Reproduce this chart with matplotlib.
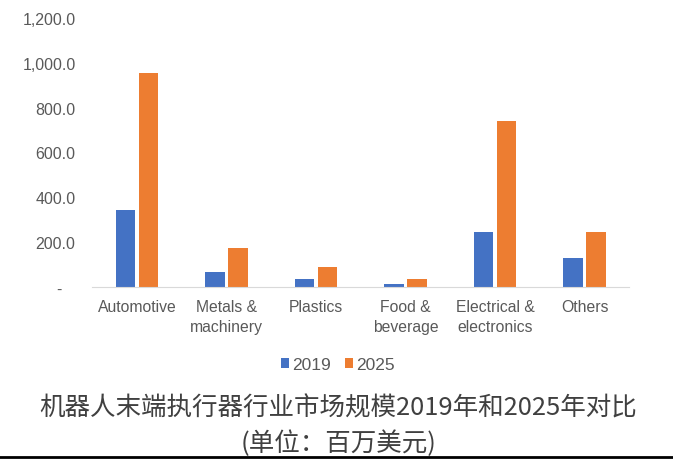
import numpy as np
import matplotlib.pyplot as plt
from matplotlib.ticker import FuncFormatter
from matplotlib.lines import Line2D

categories = ['Automotive', 'Metals &\nmachinery', 'Plastics', 'Food &\nbeverage',
              'Electrical &\nelectronics', 'Others']
v2019 = [343, 65, 36, 13, 246, 127]
v2025 = [955, 174, 89, 37, 738, 246]
years = ['2019', '2025']

plt.rcParams['font.family'] = ['Liberation Sans', 'DejaVu Sans']

fig = plt.figure(figsize=(6.73, 4.6), dpi=100)
ax = fig.add_axes([0.137, 0.374, 0.798, 0.585])

x = np.arange(len(categories))
w = 0.22
gap = 0.035
ax.bar(x - (w + gap) / 2, v2019, w, color='#4472C4', label=years[0])
ax.bar(x + (w + gap) / 2, v2025, w, color='#ED7D31', label=years[1])

ax.set_xlim(-0.5, len(categories) - 0.5)
ax.set_ylim(0, 1200)
ax.set_yticks(np.arange(0, 1201, 200))
ax.yaxis.set_major_formatter(FuncFormatter(lambda v, p: '-   ' if v == 0 else f'{v:,.1f}'))
ax.set_xticks(x)
ax.set_xticklabels(categories, linespacing=1.35)
ax.tick_params(axis='both', length=0, colors='#595959')
ax.tick_params(axis='y', pad=12, labelsize=11.5)
ax.tick_params(axis='x', pad=9, labelsize=11.3)
for s in ['top', 'right', 'left']:
    ax.spines[s].set_visible(False)
ax.spines['bottom'].set_color('#D9D9D9')

fig.legend(loc='center', bbox_to_anchor=(0.502, 0.205), ncol=2, frameon=False,
           fontsize=12.5, labelcolor='#595959', handlelength=0.45, handleheight=0.45,
           handletextpad=0.2, columnspacing=0.8)

cjk = ['Noto Sans CJK SC', 'DejaVu Sans']
fig.text(0.503, 0.113, '机器人末端执行器行业市场规模2019年和2025年对比', ha='center', va='center',
         fontsize=18.4, color='#404040', family=cjk)
fig.text(0.503, 0.035, '(单位：百万美元)', ha='center', va='center',
         fontsize=18.4, color='#404040', family=cjk)

fig.add_artist(Line2D([0, 1], [0.004, 0.004], color='black', lw=2, transform=fig.transFigure))

fig.savefig('out.png', dpi=100)
